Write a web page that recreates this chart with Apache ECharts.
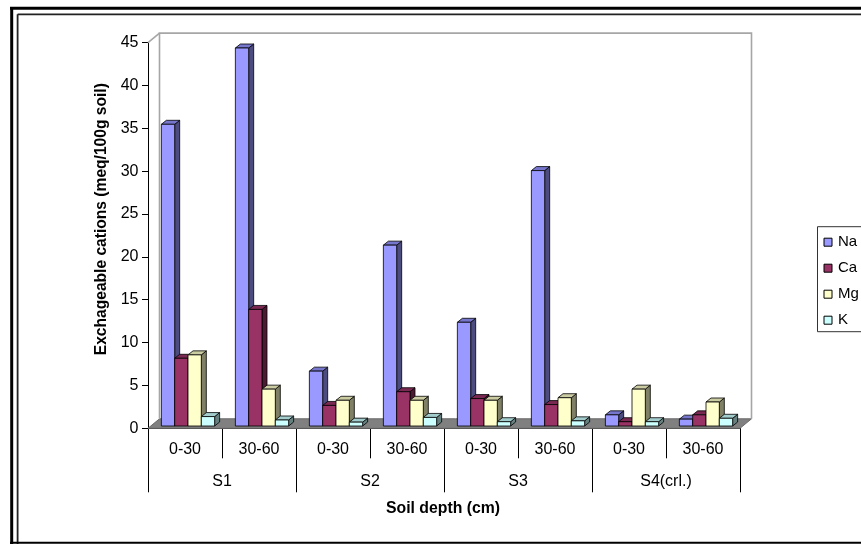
<!DOCTYPE html>
<html>
<head>
<meta charset="utf-8">
<script src="https://cdn.jsdelivr.net/npm/echarts@6/dist/echarts.min.js"></script>
<style>html,body{margin:0;padding:0;background:#fff}#c{width:861px;height:544px}</style>
</head>
<body>
<div id="c"></div>
<script>
var depths = ["0-30","30-60","0-30","30-60","0-30","30-60","0-30","30-60"];
var sites = ["S1","S2","S3","S4(crl.)"];
var seriesNames = ["Na","Ca","Mg","K"];
var na = [35.2, 44.1, 6.4, 21.1, 12.1, 29.8, 1.3, 0.8];
var ca = [7.9, 13.6, 2.4, 4.0, 3.2, 2.5, 0.5, 1.3];
var mg = [8.3, 4.3, 3.0, 3.0, 3.0, 3.3, 4.3, 2.8];
var k  = [1.1, 0.7, 0.45, 1.0, 0.5, 0.6, 0.5, 0.9];
var yTicks = [0,5,10,15,20,25,30,35,40,45];

var values = [na, ca, mg, k];
var fronts = ["#9999FF","#993366","#FFFFCC","#CCFFFF"];
var tops   = ["#7676cc","#7a2952","#cccca3","#a3cccc"];
var sides  = ["#4c4c80","#4d1a33","#808066","#668080"];
var FONT = "Liberation Sans, Arial, sans-serif";

function barRender(si){
  return function(params, api){
    var ci = api.value(0), v = api.value(1);
    var p0 = api.coord([ci, 0]);
    var p1 = api.coord([ci, v]);
    var band = api.size([1,0])[0];
    var w = band*0.18;
    var ox = 3, oy = -2.3;
    var x = p0[0] + ox + (si-2)*w;
    var yb = p0[1] + oy, yt = p1[1] + oy;
    var dx = 5, dy = -4;
    var ls = {stroke:'#000', lineWidth:0.8};
    return {type:'group', children:[
      {type:'polygon', shape:{points:[[x+w,yt],[x+w+dx,yt+dy],[x+w+dx,yb+dy],[x+w,yb]]}, style:Object.assign({fill:sides[si]}, ls)},
      {type:'polygon', shape:{points:[[x,yt],[x+w,yt],[x+w+dx,yt+dy],[x+dx,yt+dy]]}, style:Object.assign({fill:tops[si]}, ls)},
      {type:'rect', shape:{x:x, y:yt, width:w, height:yb-yt}, style:Object.assign({fill:fronts[si]}, ls)}
    ]};
  };
}

function wallRender(params, api){
  var cs = params.coordSys;
  var x = cs.x, y = cs.y, w = cs.width, h = cs.height;
  var dx = 11.5, dy = -9.5;
  var g = '#a6a6a6';
  return {type:'group', children:[
    {type:'polygon', shape:{points:[[x,y+h],[x+w,y+h],[x+w+dx,y+h+dy],[x+dx,y+h+dy]]}, style:{fill:'#808080', stroke:'#6a6a6a', lineWidth:1}},
    {type:'polyline', shape:{points:[[x+dx,y+h+dy],[x+dx,y+dy],[x+w+dx,y+dy],[x+w+dx,y+h+dy]]}, style:{fill:null, stroke:g, lineWidth:1.6}},
    {type:'line', shape:{x1:x, y1:y, x2:x+dx, y2:y+dy}, style:{stroke:g, lineWidth:1.6}}
  ]};
}

var series = [{
  type:'custom', name:'wall', silent:true, z:1,
  renderItem: wallRender, data:[[0,0]], encode:{x:0,y:1}
}];
for (var i=0;i<4;i++){
  series.push({
    type:'custom', name:seriesNames[i], z:2+i,
    renderItem: barRender(i),
    itemStyle:{color:fronts[i]},
    encode:{x:0,y:1},
    data: values[i].map(function(v,j){return [j,v];})
  });
}

var chart = echarts.init(document.getElementById('c'));
chart.setOption({
  animation:false,
  backgroundColor:'#fff',
  grid:{left:148, top:42.6, width:592, height:385.7},
  xAxis:[{
    type:'category', data:depths, boundaryGap:true,
    axisLine:{show:true, lineStyle:{color:'#000', width:1}},
    axisTick:{show:true, length:30, interval:0, lineStyle:{color:'#000'}},
    axisLabel:{interval:0, margin:21, verticalAlign:'middle', fontSize:16, color:'#000', fontFamily:FONT},
    splitLine:{show:false}
  },{
    type:'category', data:sites, boundaryGap:true, position:'bottom',
    axisLine:{show:false},
    axisTick:{show:true, length:64, interval:0, lineStyle:{color:'#000'}},
    axisLabel:{interval:0, margin:53.4, verticalAlign:'middle', fontSize:16, color:'#000', fontFamily:FONT},
    splitLine:{show:false}
  }],
  yAxis:{
    type:'value', min:0, max:45, interval:5,
    axisLine:{show:true, lineStyle:{color:'#000', width:1}},
    axisTick:{show:true, length:6, lineStyle:{color:'#000'}},
    axisLabel:{margin:9.5, fontSize:16, color:'#000', fontFamily:FONT,
      formatter:function(v){ return yTicks.indexOf(v) >= 0 ? String(v) : ''; }},
    splitLine:{show:false}
  },
  legend:{
    orient:'vertical', left:817.5, top:226.7,
    padding:[8,40,4,6], itemGap:11, itemWidth:8, itemHeight:8,
    borderColor:'#333', borderWidth:1, icon:'rect',
    textStyle:{fontSize:15, color:'#000', fontFamily:FONT, padding:[0,0,0,1]},
    data: seriesNames.map(function(n,i){return {name:n, itemStyle:{color:fronts[i], borderColor:'#000', borderWidth:1}};})
  },
  series: series,
  graphic:[
    {type:'line', silent:true, shape:{x1:10, y1:8.3, x2:870, y2:8.3}, style:{stroke:'#000', lineWidth:3}},
    {type:'line', silent:true, shape:{x1:11.7, y1:7, x2:11.7, y2:550}, style:{stroke:'#000', lineWidth:3}},
    {type:'line', silent:true, shape:{x1:17.6, y1:14.3, x2:870, y2:14.3}, style:{stroke:'#222', lineWidth:1.8}},
    {type:'line', silent:true, shape:{x1:17.6, y1:14.3, x2:17.6, y2:550}, style:{stroke:'#222', lineWidth:1.8}},
    {type:'line', silent:true, shape:{x1:10, y1:542.8, x2:870, y2:542.8}, style:{stroke:'#000', lineWidth:2}},
    {type:'text', silent:true, x:101.7, y:219.2, rotation:Math.PI/2,
      style:{text:'Exchageable cations (meq/100g soil)', font:'bold 15.6px '+FONT, fill:'#000', textAlign:'center', textVerticalAlign:'middle'}},
    {type:'text', silent:true, x:443, y:509,
      style:{text:'Soil depth (cm)', font:'bold 15.8px '+FONT, fill:'#000', textAlign:'center', textVerticalAlign:'middle'}}
  ]
});
</script>
</body>
</html>
